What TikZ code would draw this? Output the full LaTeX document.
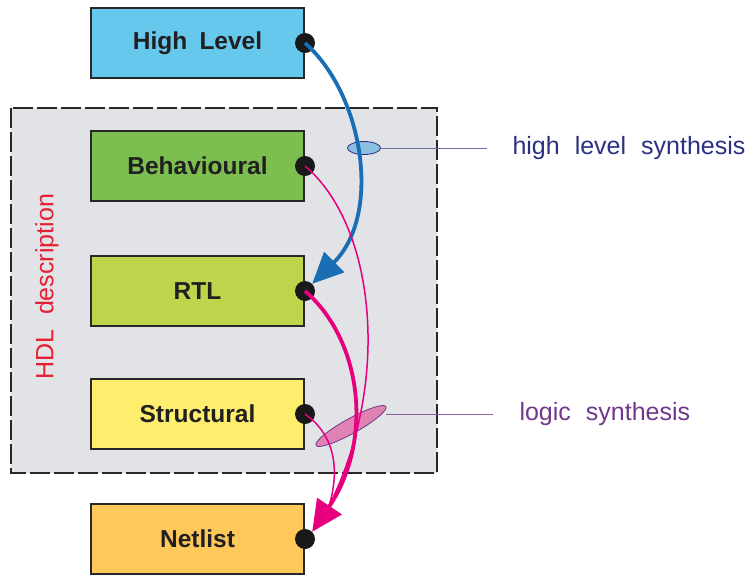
\documentclass[tikz,border=0pt]{standalone}
\usepackage{fontspec}
\setmainfont{Liberation Sans}
\usetikzlibrary{arrows.meta,shapes.geometric}
\definecolor{hdlbg}{RGB}{226,227,230}
\definecolor{frame}{RGB}{40,40,40}
\definecolor{cHigh}{RGB}{102,200,236}
\definecolor{cBeh}{RGB}{125,190,80}
\definecolor{cRtl}{RGB}{190,213,75}
\definecolor{cStr}{RGB}{255,237,110}
\definecolor{cNet}{RGB}{255,200,90}
\definecolor{hlsblue}{RGB}{25,110,180}
\definecolor{hlstext}{RGB}{43,48,130}
\definecolor{hlsfill}{RGB}{140,190,225}
\definecolor{lsmag}{RGB}{230,0,125}
\definecolor{lstext}{RGB}{112,55,140}
\definecolor{lsfill}{RGB}{225,130,180}
\definecolor{hdlred}{RGB}{230,30,50}
\tikzset{
  level/.style={draw=frame, line width=2pt, minimum width=213pt, minimum height=70pt,
    inner sep=0pt, font=\fontsize{24.5}{29}\selectfont\bfseries, text=frame!80!black},
  port/.style={circle, fill=black!90, inner sep=0pt, minimum size=20pt},
  note/.style={anchor=west, font=\fontsize{25}{30}\selectfont},
}
\begin{document}
\begin{tikzpicture}[x=1pt, y=-1pt]
\useasboundingbox (0,0) rectangle (748,576);

% HDL description region
\draw[frame, fill=hdlbg, line width=1.2pt, dash pattern=on 20pt off 4pt]
  (11,108) rectangle (437,473);
\node[rotate=90, text=hdlred, font=\fontsize{25}{30}\selectfont] (hdl) at (47,287)
  {HDL\hspace{0.6em}description};

% abstraction levels
\node[level, fill=cHigh] (hl)  at (197.5,43)  {High\hspace{0.5em}Level};
\node[level, fill=cBeh]  (beh) at (197.5,166) {Behavioural};
\node[level, fill=cRtl]  (rtl) at (197.5,291) {RTL};
\node[level, fill=cStr]  (str) at (197.5,414) {Structural};
\node[level, fill=cNet]  (net) at (197.5,539) {Netlist};

% synthesis markers
\node[draw=hlstext, fill=hlsfill, ellipse, minimum width=33pt, minimum height=13pt,
  inner sep=0pt, line width=0.8pt] (hlsmark) at (364,148) {};
\node[draw=lstext, fill=lsfill, ellipse, rotate=29, minimum width=80pt, minimum height=15pt,
  inner sep=0pt, line width=0.8pt] (lsmark) at (351,426) {};

% ports on the right edge
\node[port] (phl)  at (hl.east)  {};
\node[port] (pbeh) at (beh.east) {};
\node[port] (prtl) at (rtl.east) {};
\node[port] (pstr) at (str.east) {};
\node[port] (pnet) at (net.east) {};

% high level synthesis
\draw[hlsblue, line width=3.8pt, -{Triangle[length=31pt, width=28pt]}]
  (phl.center) .. controls (364,95) and (382,215) .. (prtl.north east);

% logic synthesis
\coordinate (nethead) at (329,506);
\draw[lsmag, line width=1.5pt]
  (pbeh.center) .. controls (375,225) and (392,380) .. (nethead);
\draw[lsmag, line width=1.5pt]
  (pstr.center) .. controls (335,435) and (340,470) .. (nethead);
\draw[lsmag, line width=3.8pt, -{Triangle[length=31pt, width=29pt]}]
  (prtl.center) .. controls (362,340) and (374,440) .. (pnet.north east);

% annotations
\coordinate (hlsend) at (487,148);
\draw[hlstext!70, line width=0.8pt] (hlsmark.east) -- (hlsend);
\node[note, text=hlstext] (hlslabel) at (509,148)
  {high\hspace{0.6em}level\hspace{0.6em}synthesis};

\coordinate (lsend) at (493,414);
\draw[lstext!80, line width=0.8pt] (lsmark.east |- lsend) -- (lsend);
\node[note, text=lstext] (lslabel) at (516,414) {logic\hspace{0.6em}synthesis};
\end{tikzpicture}
\end{document}
